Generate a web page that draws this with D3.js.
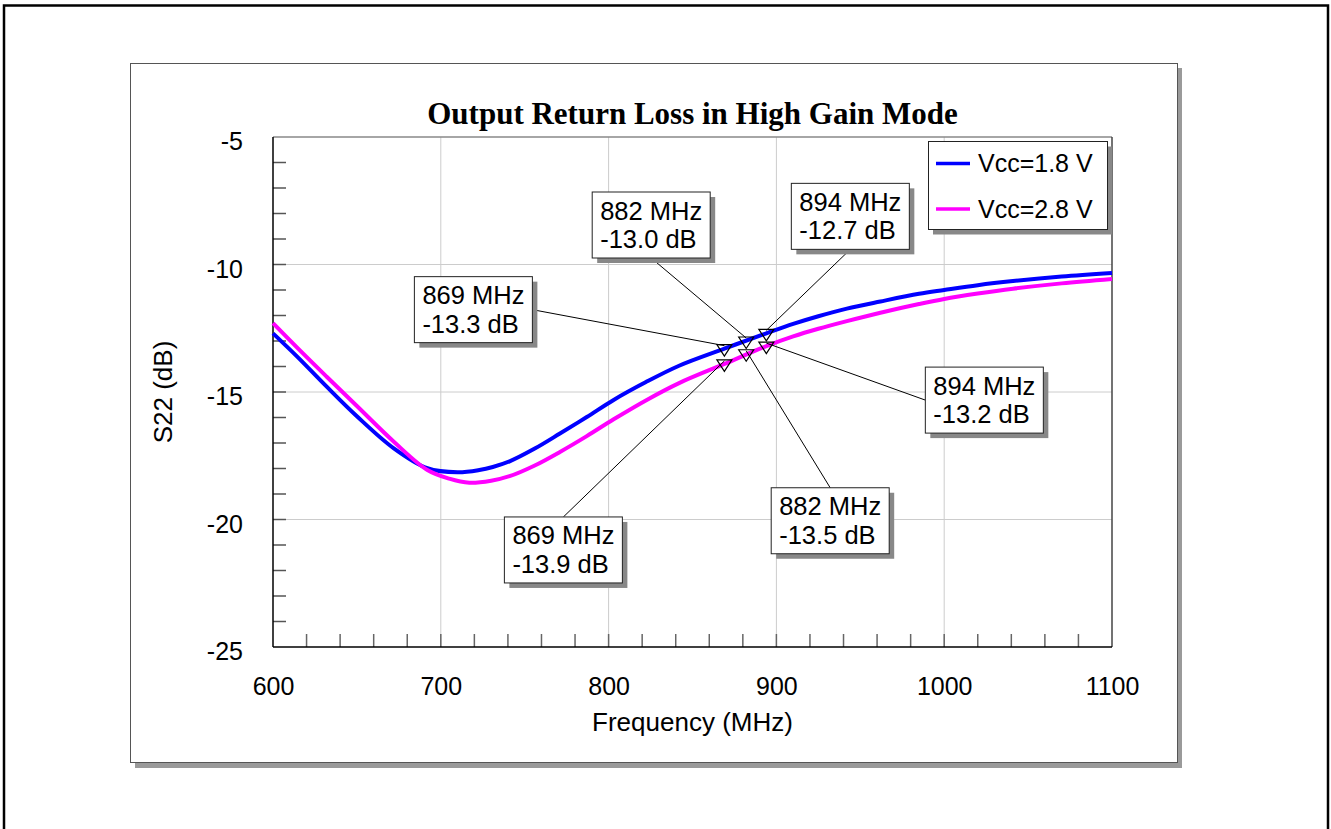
<!DOCTYPE html>
<html>
<head>
<meta charset="utf-8">
<title>Output Return Loss in High Gain Mode</title>
<script src="https://cdn.jsdelivr.net/npm/d3@7"></script>
<style>
  html, body { margin: 0; padding: 0; background: #fff; }
  svg { display: block; }
  text { font-family: Arial, "Liberation Sans", sans-serif; fill: #000; }
</style>
</head>
<body>
<svg id="chart" width="1331" height="829"></svg>
<script>
// ---- data -------------------------------------------------------------
const seriesNames = ["Vcc=1.8 V", "Vcc=2.8 V"];
const seriesColors = ["#0000ff", "#ff00ff"];

// Vcc = 1.8 V : frequency (MHz) / S22 (dB)
const freq18 = [600, 615, 632, 650, 672, 692, 710, 723, 731, 741, 756, 771, 787, 803, 822, 842, 869, 894, 910, 925, 942, 962, 985, 1000, 1020, 1041, 1070, 1100];
const s22_18 = [-12.70, -13.65, -14.79, -15.95, -17.21, -17.99, -18.15, -18.06, -17.94, -17.72, -17.22, -16.63, -15.98, -15.31, -14.62, -13.97, -13.30, -12.70, -12.33, -12.03, -11.73, -11.45, -11.15, -11.00, -10.81, -10.65, -10.47, -10.33];

// Vcc = 2.8 V
const freq28 = [600, 615, 632, 650, 672, 692, 705, 717, 730, 741, 756, 771, 787, 803, 823, 842, 869, 894, 910, 925, 942, 962, 985, 1000, 1020, 1041, 1070, 1100];
const s22_28 = [-12.30, -13.30, -14.40, -15.55, -16.95, -18.06, -18.40, -18.56, -18.48, -18.30, -17.88, -17.35, -16.73, -16.07, -15.30, -14.65, -13.90, -13.20, -12.82, -12.52, -12.22, -11.89, -11.55, -11.35, -11.14, -10.95, -10.74, -10.57];

// marker read-outs
const markerFreq   = [869, 882, 894, 869, 882, 894];
const markerDb     = [-13.3, -13.0, -12.7, -13.9, -13.5, -13.2];
const markerSeries = [0, 0, 0, 1, 1, 1];

// axis ticks
const xTickLabels = [600, 700, 800, 900, 1000, 1100];
const yTickLabels = [-5, -10, -15, -20, -25];

// ---- layout -----------------------------------------------------------
const plot = { left: 273, right: 1112, top: 137, bottom: 647 };
// callout box offsets from their marker (px) and which box edge the leader meets
const calloutLayout = [
  { dx: -310, dy: -72,  edge: "right"  },
  { dx: -154, dy: -149, edge: "bottom" },
  { dx: 25,   dy: -150, edge: "bottom" },
  { dx: -220, dy: 153,  edge: "top"    },
  { dx: 25,   dy: 134,  edge: "top"    },
  { dx: 159,  dy: 21,   edge: "left"   }
];
const boxW = 118, boxH = 66;

const svg = d3.select("#chart");

const x = d3.scaleLinear().domain([600, 1100]).range([plot.left, plot.right]);
const y = d3.scaleLinear().domain([-25, -5]).range([plot.bottom, plot.top]);

// outer frame
svg.append("rect")
  .attr("x", 4).attr("y", 5.5).attr("width", 1324).attr("height", 840)
  .attr("fill", "none").attr("stroke", "#000").attr("stroke-width", 2.5);

// chart panel with drop shadow
svg.append("rect")
  .attr("x", 135).attr("y", 68).attr("width", 1047).attr("height", 700)
  .attr("fill", "#9a9a9a");
svg.append("rect")
  .attr("x", 130.5).attr("y", 63.5).attr("width", 1047).attr("height", 699)
  .attr("fill", "#fff").attr("stroke", "#555").attr("stroke-width", 1);

// title
svg.append("text")
  .attr("x", (plot.left + plot.right) / 2).attr("y", 124)
  .attr("text-anchor", "middle")
  .style("font-family", "'Liberation Serif', 'Times New Roman', serif")
  .style("font-weight", "bold").style("font-size", "31px")
  .text("Output Return Loss in High Gain Mode");

// grid
const grid = svg.append("g");
grid.selectAll("line.gx")
  .data(xTickLabels.filter(v => v > 600 && v < 1100))
  .join("line")
  .attr("x1", d => x(d)).attr("x2", d => x(d))
  .attr("y1", plot.top).attr("y2", plot.bottom)
  .attr("stroke", "#cccccc").attr("stroke-width", 1);
grid.selectAll("line.gy")
  .data(yTickLabels.filter(v => v > -25 && v < -5))
  .join("line")
  .attr("x1", plot.left).attr("x2", plot.right)
  .attr("y1", d => y(d)).attr("y2", d => y(d))
  .attr("stroke", "#cccccc").attr("stroke-width", 1);

// minor ticks inside the plot
const yMinor = d3.range(-24, -5, 1);
svg.append("g").selectAll("line")
  .data(yMinor).join("line")
  .attr("x1", plot.left).attr("x2", plot.left + 13)
  .attr("y1", d => y(d)).attr("y2", d => y(d))
  .attr("stroke", "#555").attr("stroke-width", 1.5);
const xMinor = d3.range(620, 1100, 20);
svg.append("g").selectAll("line")
  .data(xMinor).join("line")
  .attr("x1", d => x(d)).attr("x2", d => x(d))
  .attr("y1", plot.bottom).attr("y2", plot.bottom - 13)
  .attr("stroke", "#666").attr("stroke-width", 1.5);

// plot frame
svg.append("line").attr("x1", plot.left).attr("x2", plot.right).attr("y1", plot.top).attr("y2", plot.top)
  .attr("stroke", "#888").attr("stroke-width", 1.5);
svg.append("line").attr("x1", plot.right).attr("x2", plot.right).attr("y1", plot.top).attr("y2", plot.bottom)
  .attr("stroke", "#444").attr("stroke-width", 1.5);
svg.append("line").attr("x1", plot.left).attr("x2", plot.left).attr("y1", plot.top).attr("y2", plot.bottom)
  .attr("stroke", "#000").attr("stroke-width", 1.5);
svg.append("line").attr("x1", plot.left).attr("x2", plot.right).attr("y1", plot.bottom).attr("y2", plot.bottom)
  .attr("stroke", "#000").attr("stroke-width", 1.5);

// axis labels via d3 axes (domain and tick lines hidden, only text kept)
const xAxis = svg.append("g")
  .attr("transform", `translate(0,${plot.bottom})`)
  .call(d3.axisBottom(x).tickValues(xTickLabels).tickFormat(d => String(d)).tickSize(0).tickPadding(0));
xAxis.select(".domain").remove();
xAxis.selectAll("text")
  .attr("y", 48).attr("dy", null)
  .style("font-size", "25px").style("font-family", "Arial, 'Liberation Sans', sans-serif").attr("fill", "#000");

const yAxis = svg.append("g")
  .attr("transform", `translate(243,0)`)
  .call(d3.axisLeft(y).tickValues(yTickLabels).tickFormat(d => String(d)).tickSize(0).tickPadding(0));
yAxis.select(".domain").remove();
yAxis.selectAll("text")
  .attr("x", 0).attr("dy", "12.5px")
  .attr("text-anchor", "end")
  .style("font-size", "25px").style("font-family", "Arial, 'Liberation Sans', sans-serif").attr("fill", "#000");

svg.append("text")
  .attr("x", (plot.left + plot.right) / 2).attr("y", 731)
  .attr("text-anchor", "middle").style("font-size", "26px")
  .text("Frequency (MHz)");

svg.append("text")
  .attr("transform", `translate(172,${(plot.top + plot.bottom) / 2}) rotate(-90)`)
  .attr("text-anchor", "middle").style("font-size", "26px")
  .text("S22 (dB)");

// curves
const series = [
  d3.zip(freq18, s22_18),
  d3.zip(freq28, s22_28)
];
const line = d3.line().x(d => x(d[0])).y(d => y(d[1])).curve(d3.curveCatmullRom.alpha(0.5));
svg.append("g").selectAll("path")
  .data(series).join("path")
  .attr("d", line)
  .attr("fill", "none")
  .attr("stroke", (d, i) => seriesColors[i])
  .attr("stroke-width", 4)
  .attr("stroke-linejoin", "round");

// callouts
const callouts = markerFreq.map((f, i) => {
  const px = x(f), py = y(markerDb[i]);
  const L = calloutLayout[i];
  const bx = px + L.dx, by = py + L.dy;
  let ax, ay;
  if (L.edge === "right")  { ax = bx + boxW;     ay = by + boxH / 2; }
  if (L.edge === "left")   { ax = bx;            ay = by + boxH / 2; }
  if (L.edge === "top")    { ax = bx + boxW / 2; ay = by; }
  if (L.edge === "bottom") { ax = bx + boxW / 2; ay = by + boxH; }
  return { f, db: markerDb[i], s: markerSeries[i], px, py, bx, by, ax, ay };
});

const cg = svg.append("g");
cg.selectAll("line.leader")
  .data(callouts).join("line")
  .attr("x1", d => d.ax).attr("y1", d => d.ay)
  .attr("x2", d => d.px).attr("y2", d => d.py - 3)
  .attr("stroke", "#000").attr("stroke-width", 1);

// triangle markers pointing down
cg.selectAll("path.marker")
  .data(callouts).join("path")
  .attr("d", d => `M${d.px - 7.5},${d.py - 4} L${d.px + 7.5},${d.py - 4} L${d.px},${d.py + 7.5} Z`)
  .attr("fill", "none").attr("stroke", "#000").attr("stroke-width", 1.2);

const boxes = cg.selectAll("g.box").data(callouts).join("g");
boxes.append("rect")
  .attr("x", d => d.bx + 5).attr("y", d => d.by + 5)
  .attr("width", boxW).attr("height", boxH)
  .attr("fill", "#888");
boxes.append("rect")
  .attr("x", d => d.bx).attr("y", d => d.by)
  .attr("width", boxW).attr("height", boxH)
  .attr("fill", "#fff").attr("stroke", "#222").attr("stroke-width", 1);
boxes.append("text")
  .attr("x", d => d.bx + 8).attr("y", d => d.by + 27.5)
  .style("font-size", "25.5px")
  .text(d => `${d.f} MHz`);
boxes.append("text")
  .attr("x", d => d.bx + 8).attr("y", d => d.by + 56)
  .style("font-size", "25.5px")
  .text(d => `${d.db.toFixed(1)} dB`);

// legend
const lg = svg.append("g");
lg.append("rect").attr("x", 933).attr("y", 146.5).attr("width", 179).attr("height", 88).attr("fill", "#888");
lg.append("rect").attr("x", 928.5).attr("y", 141.5).attr("width", 179).attr("height", 88)
  .attr("fill", "#fff").attr("stroke", "#222").attr("stroke-width", 1);
const items = lg.selectAll("g.item").data(seriesNames).join("g")
  .attr("transform", (d, i) => `translate(0,${163.5 + i * 45.5})`);
items.append("line")
  .attr("x1", 936).attr("x2", 970).attr("y1", 0).attr("y2", 0)
  .attr("stroke", (d, i) => seriesColors[i]).attr("stroke-width", 3.5);
items.append("text")
  .attr("x", 978).attr("y", 8.5)
  .style("font-size", "25px")
  .text(d => d);
</script>
</body>
</html>
